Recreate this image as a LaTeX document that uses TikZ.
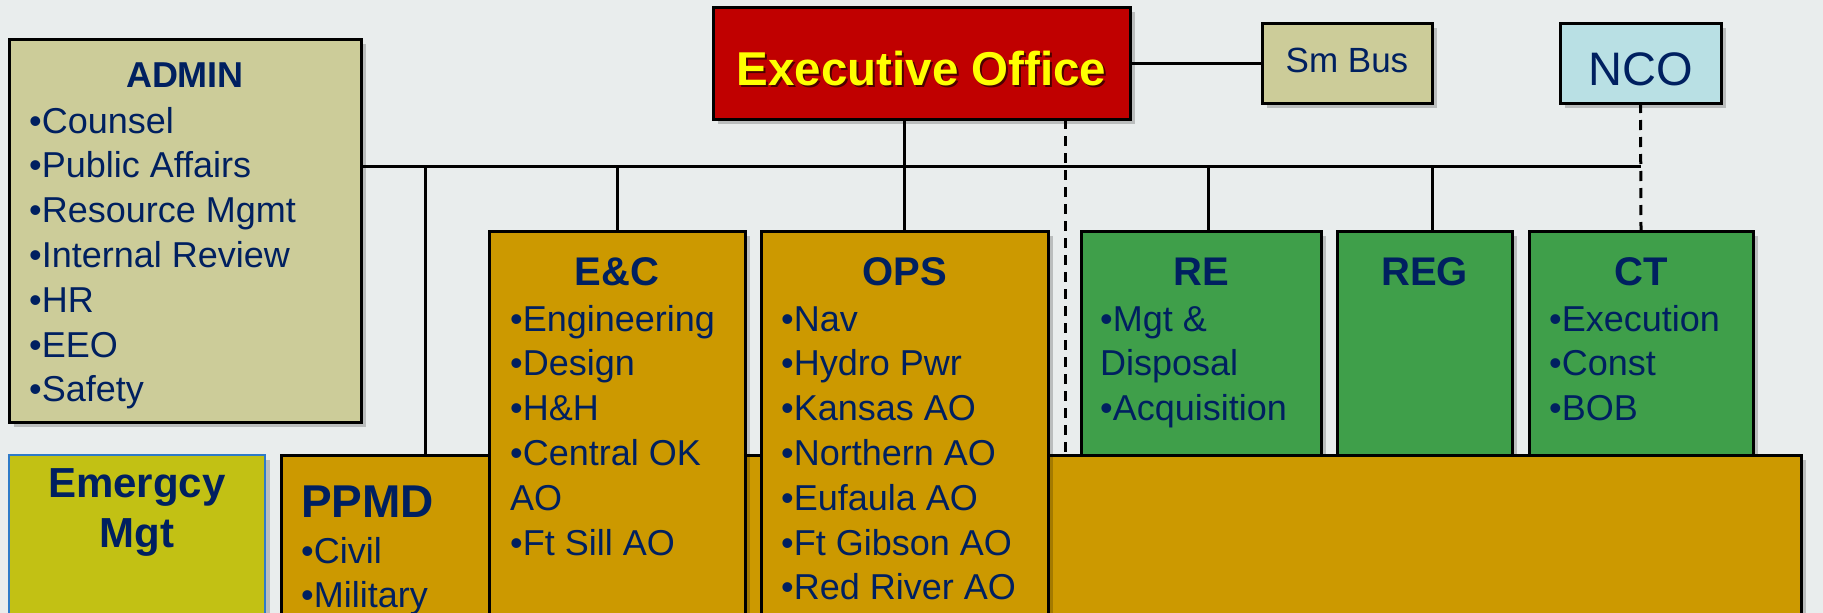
\documentclass[tikz,border=0pt]{standalone}
\usepackage{fontspec}
\setmainfont{Liberation Sans}
\usetikzlibrary{shadows}
\definecolor{bgc}{HTML}{E9EDED}
\definecolor{khaki}{HTML}{CCCC99}
\definecolor{execred}{HTML}{C00000}
\definecolor{ltblue}{HTML}{B9E0E4}
\definecolor{gold}{HTML}{CC9900}
\definecolor{grn}{HTML}{3F9F4A}
\definecolor{emerg}{HTML}{C2C114}
\definecolor{navy}{HTML}{002060}
\definecolor{embord}{HTML}{2E7BC8}
\definecolor{yel}{HTML}{FFFF00}
\definecolor{darkred}{HTML}{4A0000}
\begin{document}
\begin{tikzpicture}[x=1pt,y=-1pt,
  box/.style={draw=black, line width=3pt, rectangle, inner sep=0pt, outer sep=0pt, anchor=north west,
    drop shadow={shadow xshift=5pt, shadow yshift=-5pt, opacity=0.2, fill=black}},
  item/.style={anchor=base west, inner sep=0pt, text=navy, font=\fontsize{36}{43}\selectfont},
  ttl/.style={anchor=base, inner sep=0pt, text=navy, font=\bfseries\fontsize{40}{48}\selectfont},
  conn/.style={line width=3pt},
  dconn/.style={line width=3pt, dash pattern=on 10pt off 7pt},
]
\useasboundingbox (0,0) rectangle (1823,613);
\clip (0,0) rectangle (1823,613);
\fill[bgc] (0,0) rectangle (1823,613);

% connector anchor points on the bus
\coordinate (busL) at (361,166);
\coordinate (busR) at (1641,166);

% boxes (upper)
\node[box, fill=khaki, minimum width=352pt, minimum height=383pt] (admin) at (9,39) {};
\node[box, fill=execred, minimum width=417pt, minimum height=112pt] (exec) at (713,7) {};
\node[box, fill=khaki, minimum width=170pt, minimum height=80pt] (smbus) at (1262,23) {};
\node[box, fill=ltblue, minimum width=161pt, minimum height=80pt] (nco) at (1560,23) {};

% connectors
\draw[conn] (busL) -- (busR);
\draw[conn] (exec.east) -- (smbus.west);
\coordinate (opsTop) at (904.5,231);
\coordinate (ecTop) at (617,231);
\coordinate (ppTop) at (425,455);
\coordinate (reTop) at (1208,231);
\coordinate (regTop) at (1432,231);
\coordinate (ctTop) at (1641,231);
\coordinate (dashTop) at (1065,119);
\coordinate (dashBot) at (1065,455);
\draw[conn] (exec.south -| opsTop) -- (opsTop);
\draw[conn] (busL -| ppTop) -- (ppTop);
\draw[conn] (busL -| ecTop) -- (ecTop);
\draw[conn] (busL -| reTop) -- (reTop);
\draw[conn] (busL -| regTop) -- (regTop);
\draw[dconn] (nco.south) -- (ctTop);
\draw[dconn] (dashTop) -- (dashBot);

% green boxes
\node[box, fill=grn, minimum width=240pt, minimum height=224pt] (re) at (1081,231) {};
\node[box, fill=grn, minimum width=175pt, minimum height=224pt] (reg) at (1337,231) {};
\node[box, fill=grn, minimum width=224pt, minimum height=224pt] (ct) at (1529,231) {};

% lower boxes
\node[box, draw=embord, line width=2pt, fill=emerg, minimum width=256pt, minimum height=200pt] (em) at (9,455) {};
\node[box, fill=gold, minimum width=1520pt, minimum height=200pt] (ppmd) at (281,455) {};
\node[box, fill=gold, minimum width=256pt, minimum height=420pt] (ec) at (489,231) {};
\node[box, fill=gold, minimum width=287pt, minimum height=420pt] (ops) at (761,231) {};

% texts
\node[ttl, font=\bfseries\fontsize{36}{43}\selectfont] (admint) at (185,87) {ADMIN};
\foreach \t [count=\i from 0] in {•Counsel,•Public Affairs,•Resource Mgmt,•Internal Review,•HR,•EEO,•Safety}
  \node[item] (adm\i) at (29,{133+44.8*\i}) {\t};

\node[anchor=base, inner sep=0pt, text=darkred, font=\bfseries\fontsize{47.5}{52}\selectfont] (exectsh) at (923.5,87) {Executive Office};
\node[anchor=base, inner sep=0pt, text=yel, font=\bfseries\fontsize{47.5}{52}\selectfont] (exect) at (921.5,85) {Executive Office};
\node[anchor=base, inner sep=0pt, text=navy, font=\fontsize{35}{42}\selectfont] (smbust) at (1347,72) {Sm Bus};
\node[anchor=base, inner sep=0pt, text=navy, font=\fontsize{47}{54}\selectfont] (ncot) at (1640.5,85) {NCO};

\node[ttl] (ect) at (617,285) {E\&C};
\foreach \t [count=\i from 0] in {•Engineering,•Design,•H\&H,•Central OK,AO,•Ft Sill AO}
  \node[item] (ec\i) at (510,{331+44.8*\i}) {\t};

\node[ttl] (opst) at (904.5,285) {OPS};
\foreach \t [count=\i from 0] in {•Nav,•Hydro Pwr,•Kansas AO,•Northern AO,•Eufaula AO,•Ft Gibson AO,•Red River AO}
  \node[item] (ops\i) at (781,{331+44.8*\i}) {\t};

\node[ttl] (ret) at (1201,285) {RE};
\foreach \t [count=\i from 0] in {•Mgt \&,Disposal,•Acquisition}
  \node[item] (re\i) at (1100,{331+44.8*\i}) {\t};

\node[ttl] (regt) at (1424.5,285) {REG};

\node[ttl] (ctt) at (1641,285) {CT};
\foreach \t [count=\i from 0] in {•Execution,•Const,•BOB}
  \node[item] (ct\i) at (1549,{331+44.8*\i}) {\t};

\node[ttl, font=\bfseries\fontsize{42}{50}\selectfont] (emt1) at (137,497) {Emergcy};
\node[ttl, font=\bfseries\fontsize{42}{50}\selectfont] (emt2) at (137,547) {Mgt};

\node[ttl, anchor=base west, font=\bfseries\fontsize{46}{52}\selectfont] (ppmdt) at (301,517) {PPMD};
\node[item] (pp0) at (301,563) {•Civil};
\node[item] (pp1) at (301,607) {•Military};
\end{tikzpicture}
\end{document}
